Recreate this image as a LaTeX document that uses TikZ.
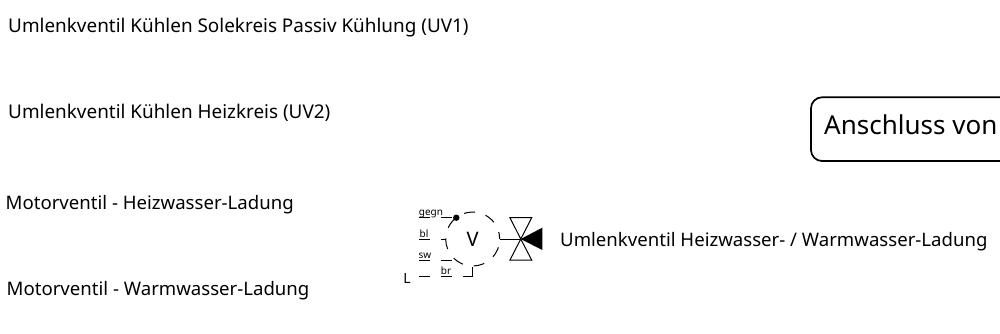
\documentclass[tikz,border=0pt]{standalone}
\usepackage{fontspec}
\setmainfont{Noto Sans}
\usetikzlibrary{positioning}
\tikzstyle{textlabel} = [inner sep=0pt, anchor=base west, font=\fontsize{18.9}{22}\selectfont]
\tikzstyle{textlabelb} = [textlabel, font=\fontsize{18.6}{22}\selectfont]
\tikzstyle{wire} = [draw, line width=1pt]
\tikzstyle{dashwire} = [draw, line width=1pt, dash pattern=on 11pt off 11pt]
\tikzstyle{colour} = [inner sep=0pt, anchor=base, font=\fontsize{10}{12}\selectfont]

\begin{document}
\begin{tikzpicture}[x=1pt, y=-1pt]
\useasboundingbox (0,0) rectangle (1000,334);
\clip (0,0) rectangle (1000,334);
% left labels
\node [textlabel] (uvone) at (8,33) {Umlenkventil Kühlen Solekreis Passiv Kühlung (UV1)};
\node [textlabel] (uvtwo) at (8,118.3) {Umlenkventil Kühlen Heizkreis (UV2)};
\node [textlabelb] (heiz) at (5.5,209.3) {Motorventil - Heizwasser-Ladung};
\node [textlabelb] (warm) at (6.5,295) {Motorventil - Warmwasser-Ladung};
\node [textlabelb] (valvetext) at (560,246.7) {Umlenkventil Heizwasser- / Warmwasser-Ladung};
% box at the right edge
\draw [line width=1.7pt, rounded corners=11pt] (1012,97.3) -- (811,97.3) -- (811,161) -- (1012,161);
\node [inner sep=0pt, anchor=base west, font=\fontsize{26}{30}\selectfont] (anschluss) at (824,134) {Anschluss von};
% motor
\node [circle, draw, line width=1pt, dash pattern=on 11pt off 11pt, dash phase=4pt, minimum size=54pt, inner sep=0pt,
    font=\fontsize{20}{24}\selectfont] (motor) at (472.7,239) {V};
\coordinate (valve) at (520.7,239);
\fill (456.3,217.7) circle (3.2pt) coordinate (dot);
\draw [wire] (motor.east) -- (valve);
\draw [wire] (valve) -- (510,217.7) -- (531.7,217.7) -- (510,260) -- (531.7,260) -- cycle;
\fill (valve) -- (542.3,227.7) -- (542.3,250) -- cycle;
% wires
\coordinate (gegnend) at (419,217.7);
\coordinate (blend) at (419,239);
\coordinate (swend) at (419,260);
\coordinate (lend) at (419,276);
\coordinate (lcorner) at (472.7,276);
\node [colour] (gegn) at (431,215) {gegn};
\node [colour] (bl) at (424,237.5) {bl};
\node [colour] (sw) at (425,258) {sw};
\node [colour] (br) at (446,274) {br};
\node [inner sep=0pt, anchor=base, font=\fontsize{14}{16}\selectfont] (lterm) at (407,283.5) {L};
\draw [dashwire] (gegnend) -- (dot);
\draw [dashwire] (blend) -- (446,239);
\draw [dashwire] (swend) -- (452,260);
\draw [dashwire] (lend) -- (452,276);
\draw [wire] (463,276) -- (lcorner) -- (472.7,266.7);
\end{tikzpicture}
\end{document}
